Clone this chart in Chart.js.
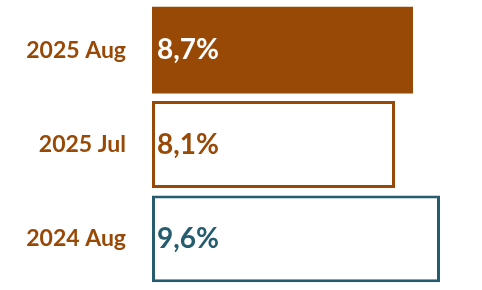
<!DOCTYPE html>
<html>
<head>
<meta charset="utf-8">
<script src="https://cdn.jsdelivr.net/npm/chart.js@4"></script>
<style>
  html, body { margin: 0; padding: 0; background: #fff; overflow: hidden; }
  canvas { display: block; }
</style>
</head>
<body>
<canvas id="chartCanvas" width="482" height="290"></canvas>
<script>
var categories = ['2025 Aug', '2025 Jul', '2024 Aug'];
var values = [8.7, 8.1, 9.6];
var valueLabels = ['8,7%', '8,1%', '9,6%'];

var brown = 'rgb(153, 73, 6)';
var teal = 'rgb(38, 93, 110)';

/* Draw the value text at the start of each bar */
var valueLabelPlugin = {
    id: 'valueLabels',
    afterDatasetsDraw: function(chart) {
        var ctx = chart.ctx;
        var meta = chart.getDatasetMeta(0);
        var textColors = ['#ffffff', brown, teal];
        ctx.save();
        ctx.font = 'bold 28px Lato';
        ctx.textBaseline = 'middle';
        ctx.textAlign = 'left';
        for (var i = 0; i < meta.data.length; i++) {
            var bar = meta.data[i];
            ctx.fillStyle = textColors[i];
            ctx.fillText(valueLabels[i], bar.base + 5, bar.y);
        }
        ctx.restore();
    }
};

var ctx = document.getElementById('chartCanvas').getContext('2d');
var chart = new Chart(ctx, {
    type: 'bar',
    data: {
        labels: categories,
        datasets: [{
            data: values,
            backgroundColor: [brown, '#ffffff', '#ffffff'],
            borderColor: [brown, brown, teal],
            borderWidth: [0, 3, 3],
            borderSkipped: false,
            barPercentage: 0.92,
            categoryPercentage: 1
        }]
    },
    options: {
        indexAxis: 'y',
        responsive: false,
        animation: false,
        layout: { padding: { top: 3, bottom: 4, left: 0, right: 0 } },
        plugins: {
            legend: { display: false },
            tooltip: { enabled: false }
        },
        scales: {
            x: {
                display: false,
                min: 0,
                max: 11
            },
            y: {
                grid: { display: false },
                border: { display: false },
                ticks: {
                    color: brown,
                    font: { family: 'Lato', weight: 'bold', size: 23 },
                    padding: 18
                },
                afterFit: function(scale) {
                    scale.width = 152;
                    scale.paddingTop = 0;
                    scale.paddingBottom = 0;
                }
            }
        }
    },
    plugins: [valueLabelPlugin]
});
</script>
</body>
</html>
